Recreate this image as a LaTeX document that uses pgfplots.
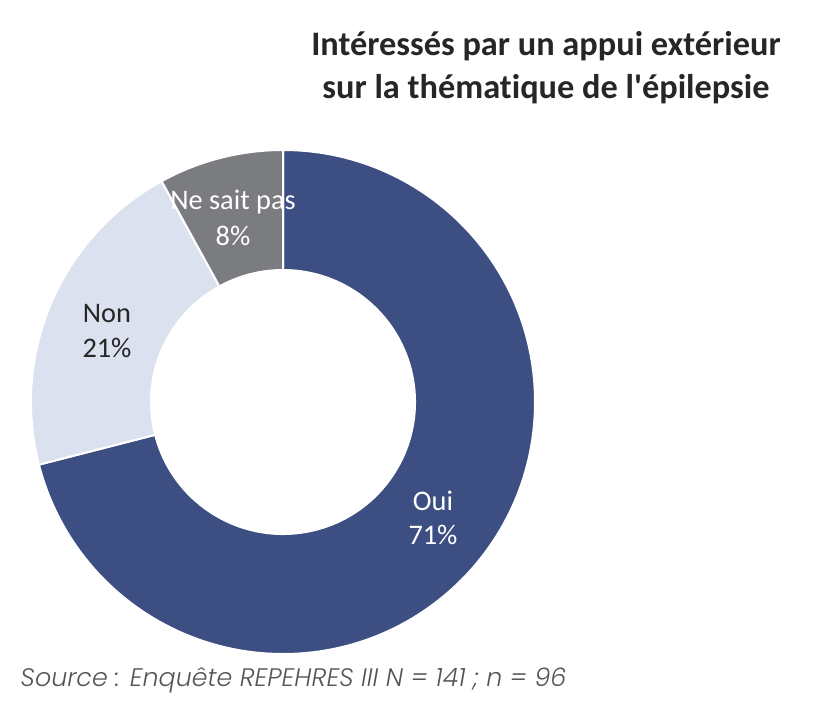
\documentclass[border=0pt]{standalone}
\usepackage{pgfplots}
\usepackage{pgfplotstable}
\pgfplotsset{compat=1.18}
\usepackage{fontspec}
\setmainfont{Carlito}[Ligatures={NoCommon}]
\newfontfamily\titlefont{Carlito}[Ligatures={NoCommon}]
\newfontfamily\srcfont{Poppins Light Italic}
\definecolor{oui}{HTML}{3D4F82}
\definecolor{non}{HTML}{DCE1F0}
\definecolor{nsp}{HTML}{7B7C80}
\definecolor{srcgray}{HTML}{555555}
\pgfplotstableread{
label value
Oui 71
Non 21
Nsp 8
}\datatable
\begin{document}
\begin{tikzpicture}
\pgfplotstablegetelem{0}{value}\of\datatable\let\vA\pgfplotsretval
\pgfplotstablegetelem{1}{value}\of\datatable\let\vB\pgfplotsretval
\pgfplotstablegetelem{2}{value}\of\datatable\let\vC\pgfplotsretval
\pgfmathsetmacro\aA{90}
\pgfmathsetmacro\aB{90-3.6*\vA}
\pgfmathsetmacro\aC{\aB-3.6*\vB}
\pgfmathsetmacro\aD{\aC-3.6*\vC}
\begin{axis}[
  scale only axis, x=0.3pt, y=0.3pt,
  xmin=0, xmax=824, ymin=0, ymax=701,
  hide axis, clip=false]
\path (axis cs:0,0) rectangle (axis cs:824,701);
\newcommand\sector[3]{%
  \filldraw[fill=#1, draw=white, line width=0.6pt]
   (axis cs:{283+252*cos(#2)},{299+252*sin(#2)})
   arc[start angle=#2, end angle=#3, radius=75.6pt]
   -- (axis cs:{283+132*cos(#3)},{299+132*sin(#3)})
   arc[start angle=#3, end angle=#2, radius=39.6pt] -- cycle;}
\sector{oui}{\aA}{\aB}
\sector{non}{\aB}{\aC}
\sector{nsp}{\aC}{\aD}
\node[align=center, text=white, font=\fontsize{8.5}{10}\selectfont] at (axis cs:433,183) {Oui\\71\%};
\node[align=center, text=black!85, font=\fontsize{8.5}{10.4}\selectfont] at (axis cs:107,370) {Non\\21\%};
\node[align=center, text=white, font=\fontsize{8.5}{11}\selectfont] at (axis cs:233,483) {Ne sait pas\\8\%};
\node[align=center, text=black!85, font=\titlefont\bfseries\fontsize{10.3}{12.9}\selectfont] at (axis cs:546,633) {Intéressés par un appui extérieur\\sur la thématique de l'épilepsie};
\node[anchor=west, text=srcgray, font=\srcfont\fontsize{7.6}{8}\selectfont, inner sep=0pt] at (axis cs:20,21) {Source : Enquête REPEHRES III N = 141 ; n = 96};
\end{axis}
\end{tikzpicture}
\end{document}
